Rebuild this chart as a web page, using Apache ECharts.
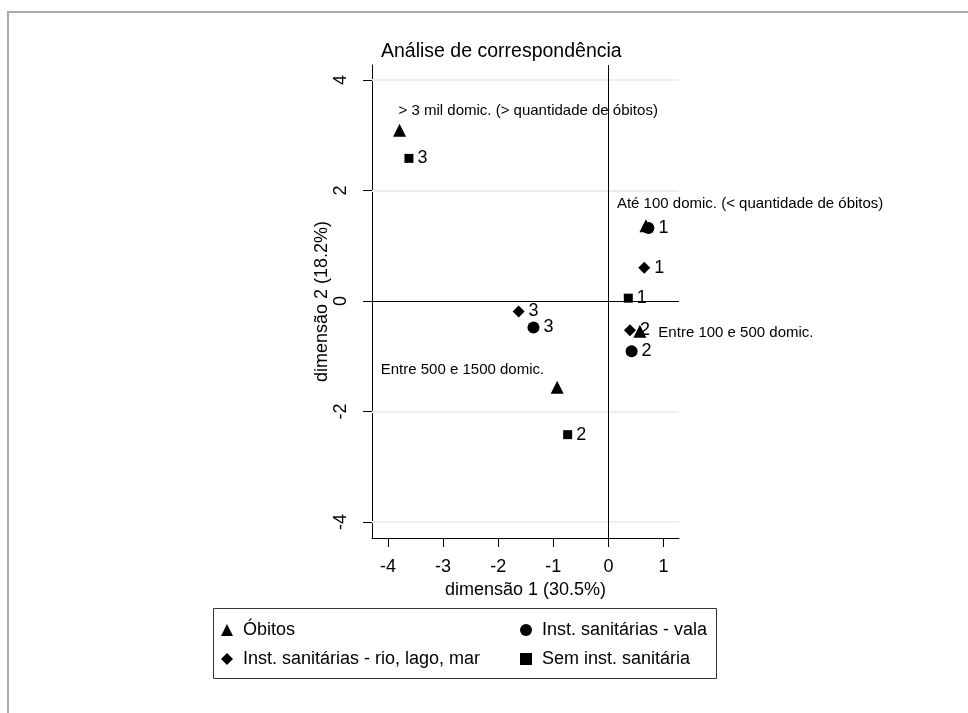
<!DOCTYPE html>
<html>
<head>
<meta charset="utf-8">
<script src="https://cdn.jsdelivr.net/npm/echarts@6/dist/echarts.min.js"></script>
<style>
html,body{margin:0;padding:0;background:#fff;}
#chart{width:968px;height:713px;}
</style>
</head>
<body>
<div id="chart"></div>
<script>
// ---- data ----
const seriesNames = ['Óbitos', 'Inst. sanitárias - vala', 'Inst. sanitárias - rio, lago, mar', 'Sem inst. sanitária'];
const obitosLabels = ['> 3 mil domic. (> quantidade de óbitos)', 'Até 100 domic. (< quantidade de óbitos)', 'Entre 100 e 500 domic.', 'Entre 500 e 1500 domic.'];
const obitosPoints = [[-3.79, 3.09], [0.68, 1.36], [0.57, -0.55], [-0.93, -1.56]];
const valaPoints = [[0.725, 1.32], [0.42, -0.91], [-1.36, -0.48]];
const rioPoints = [[0.65, 0.60], [0.39, -0.53], [-1.63, -0.19]];
const semPoints = [[0.36, 0.05], [-0.74, -2.42], [-3.62, 2.58]];
const categoryLabels = ['1', '2', '3'];
const xTicks = [-4, -3, -2, -1, 0, 1];
const yTicks = [-4, -2, 0, 2, 4];
const xTitle = 'dimensão 1 (30.5%)';
const yTitle = 'dimensão 2 (18.2%)';
const chartTitle = 'Análise de correspondência';

// ---- styling ----
const FONT = "'Liberation Sans', Arial, sans-serif";
const obitosLabelLayout = [
  {position: 'top', align: 'left', offset: [-1, 0]},
  {position: 'top', align: 'left', offset: [-29, -3]},
  {position: 'right', offset: [7, 2]},
  {position: 'top', align: 'right', offset: [-13, 2]}
];

const chart = echarts.init(document.getElementById('chart'), null, {renderer: 'canvas'});

function numberedSeries(name, pts, symbol, size) {
  return {
    name: name, type: 'scatter', z: 5,
    symbol: symbol, symbolSize: size,
    itemStyle: {color: '#000', opacity: 1},
    label: {
      show: true, position: 'right', distance: 4,
      fontFamily: FONT, fontSize: 18, color: '#000',
      formatter: p => categoryLabels[p.dataIndex]
    },
    data: pts
  };
}

const option = {
  animation: false,
  backgroundColor: '#fff',
  textStyle: {fontFamily: FONT},
  title: {
    text: chartTitle, left: 376, top: 37,
    textStyle: {fontFamily: FONT, fontSize: 19.5, fontWeight: 'normal', color: '#000'}
  },
  grid: {left: 372, top: 65, right: 289, bottom: 175, containLabel: false},
  xAxis: {
    type: 'value', min: -4.29, max: 1.28,
    name: xTitle, nameLocation: 'middle', nameGap: 37,
    nameTextStyle: {fontFamily: FONT, fontSize: 18, color: '#000'},
    axisLine: {show: true, onZero: false, lineStyle: {color: '#000', width: 1}},
    axisTick: {show: true, length: 9, customValues: xTicks, lineStyle: {color: '#000', width: 1}},
    axisLabel: {customValues: xTicks, fontFamily: FONT, fontSize: 18, color: '#000', margin: 20},
    splitLine: {show: false}
  },
  yAxis: {
    type: 'value', min: -4.29, max: 4.27,
    name: yTitle, nameLocation: 'middle', nameGap: 37,
    nameTextStyle: {fontFamily: FONT, fontSize: 18, color: '#000'},
    axisLine: {show: true, onZero: false, lineStyle: {color: '#000', width: 1}},
    axisTick: {show: true, length: 9, customValues: yTicks, lineStyle: {color: '#000', width: 1}},
    axisLabel: {customValues: yTicks, rotate: 90, fontFamily: FONT, fontSize: 18, color: '#000', margin: 22},
    splitLine: {show: false}
  },
  legend: [
    {
      orient: 'vertical', left: 221, top: 620, padding: 0,
      itemWidth: 12, itemHeight: 12, itemGap: 9,
      itemStyle: {opacity: 1},
      textStyle: {fontFamily: FONT, fontSize: 18, lineHeight: 20, color: '#000', padding: [0, 0, 0, 5]},
      data: [seriesNames[0], seriesNames[2]]
    },
    {
      orient: 'vertical', left: 520, top: 620, padding: 0,
      itemWidth: 12, itemHeight: 12, itemGap: 9,
      itemStyle: {opacity: 1},
      textStyle: {fontFamily: FONT, fontSize: 18, lineHeight: 20, color: '#000', padding: [0, 0, 0, 5]},
      data: [seriesNames[1], seriesNames[3]]
    }
  ],
  graphic: [
    {type: 'line', silent: true, shape: {x1: 7, y1: 12, x2: 968, y2: 12}, style: {stroke: '#a9a9a9', lineWidth: 2}},
    {type: 'line', silent: true, shape: {x1: 8, y1: 11, x2: 8, y2: 713}, style: {stroke: '#a9a9a9', lineWidth: 2}},
    {type: 'rect', silent: true, shape: {x: 213.5, y: 608.5, width: 503, height: 70}, style: {fill: 'none', stroke: '#333', lineWidth: 1}}
  ],
  series: [
    {
      name: 'grid', type: 'scatter', z: 1, data: [],
      markLine: {
        silent: true, symbol: ['none', 'none'], label: {show: false},
        lineStyle: {color: '#eaf0f1', width: 2, type: 'solid'},
        data: yTicks.filter(v => v !== 0).map(v => ({yAxis: v}))
      }
    },
    {
      name: 'ref', type: 'scatter', z: 2, data: [],
      markLine: {
        silent: true, symbol: ['none', 'none'], label: {show: false},
        lineStyle: {color: '#000', width: 1, type: 'solid'},
        data: [{xAxis: 0}, {yAxis: 0}]
      }
    },
    {
      name: seriesNames[0], type: 'scatter', z: 5,
      symbol: 'triangle', symbolSize: 13,
      itemStyle: {color: '#000', opacity: 1},
      label: {show: true, fontFamily: FONT, fontSize: 15, color: '#000', formatter: '{b}'},
      data: obitosPoints.map((p, i) => ({
        name: obitosLabels[i], value: p,
        label: Object.assign({show: true, formatter: obitosLabels[i]}, obitosLabelLayout[i])
      }))
    },
    numberedSeries(seriesNames[1], valaPoints, 'circle', 12),
    numberedSeries(seriesNames[2], rioPoints, 'diamond', 12),
    numberedSeries(seriesNames[3], semPoints, 'rect', 9)
  ]
};
chart.setOption(option);
</script>
</body>
</html>
